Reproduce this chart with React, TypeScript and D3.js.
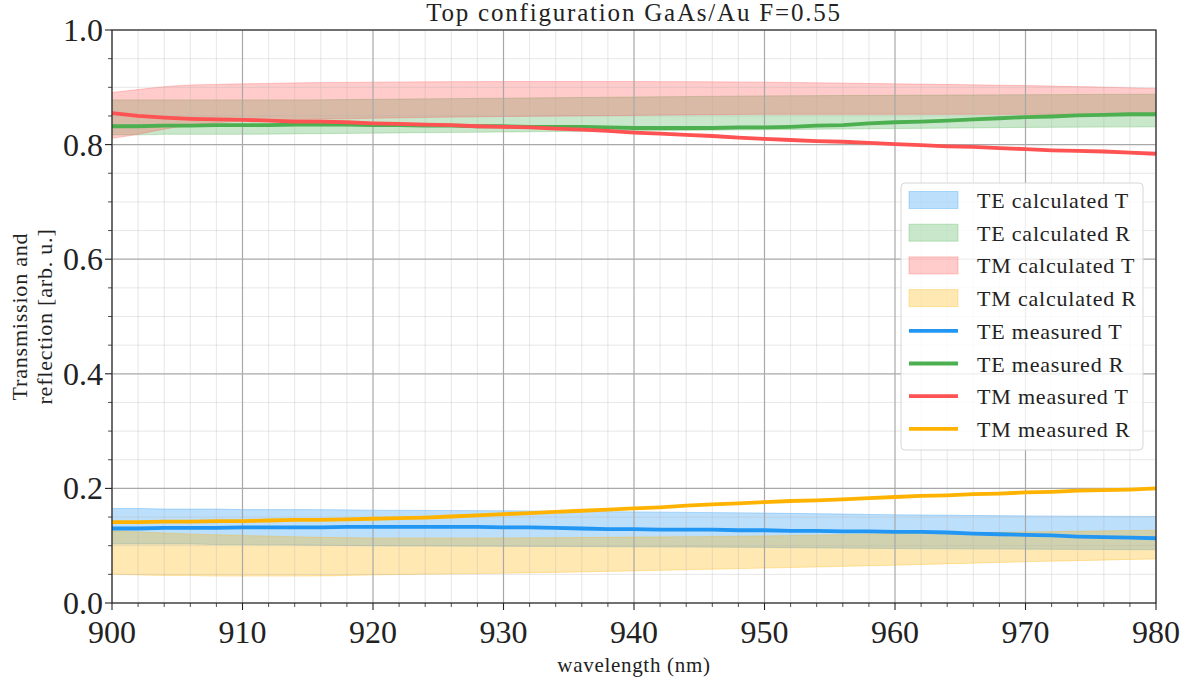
import React from "react";
import * as d3 from "d3";

// Measured curves, sampled every 2 nm
const lineWavelengths = [
  900, 902, 904, 906, 908, 910, 912, 914, 916, 918, 920, 922, 924, 926, 928, 930, 932, 934, 936, 938, 940,
  942, 944, 946, 948, 950, 952, 954, 956, 958, 960, 962, 964, 966, 968, 970, 972, 974, 976, 978, 980,
];
const teMeasuredT = [
  0.130, 0.130, 0.131, 0.131, 0.131, 0.132, 0.132, 0.132, 0.132, 0.133, 0.133, 0.133, 0.133, 0.133, 0.133,
  0.132, 0.132, 0.131, 0.130, 0.129, 0.129, 0.128, 0.128, 0.128, 0.127, 0.127, 0.126, 0.126, 0.125, 0.125,
  0.124, 0.124, 0.123, 0.121, 0.120, 0.119, 0.118, 0.116, 0.115, 0.114, 0.113,
];
const teMeasuredR = [
  0.832, 0.832, 0.833, 0.833, 0.834, 0.834, 0.834, 0.835, 0.835, 0.835, 0.834, 0.834, 0.833, 0.833, 0.832,
  0.832, 0.831, 0.831, 0.831, 0.830, 0.829, 0.829, 0.829, 0.829, 0.830, 0.830, 0.831, 0.833, 0.834, 0.837,
  0.839, 0.840, 0.842, 0.844, 0.846, 0.848, 0.849, 0.851, 0.852, 0.853, 0.853,
];
const tmMeasuredT = [
  0.855, 0.850, 0.847, 0.845, 0.844, 0.843, 0.842, 0.840, 0.840, 0.839, 0.837, 0.836, 0.835, 0.834, 0.832,
  0.831, 0.830, 0.828, 0.826, 0.824, 0.821, 0.819, 0.817, 0.815, 0.812, 0.810, 0.808, 0.806, 0.805, 0.803,
  0.801, 0.799, 0.797, 0.796, 0.794, 0.792, 0.790, 0.789, 0.788, 0.786, 0.784,
];
const tmMeasuredR = [
  0.141, 0.141, 0.142, 0.142, 0.143, 0.143, 0.144, 0.145, 0.145, 0.146, 0.147, 0.148, 0.149, 0.151, 0.153,
  0.155, 0.157, 0.159, 0.161, 0.163, 0.165, 0.167, 0.170, 0.172, 0.174, 0.176, 0.178, 0.179, 0.181, 0.183,
  0.185, 0.187, 0.188, 0.190, 0.191, 0.193, 0.194, 0.196, 0.197, 0.198, 0.200,
];

// Calculated ranges (lower / upper envelope)
const bandWavelengths = [900, 902, 904, 906, 908, 910, 915, 920, 930, 940, 950, 960, 970, 980];
const teCalcTLow = [0.103, 0.103, 0.103, 0.103, 0.102, 0.102, 0.101, 0.100, 0.099, 0.098, 0.097, 0.095, 0.094, 0.093];
const teCalcTHigh = [0.165, 0.165, 0.164, 0.164, 0.164, 0.163, 0.163, 0.162, 0.161, 0.159, 0.157, 0.154, 0.152, 0.151];
const teCalcRLow = [0.817, 0.817, 0.818, 0.818, 0.818, 0.818, 0.819, 0.820, 0.822, 0.824, 0.826, 0.828, 0.830, 0.831];
const teCalcRHigh = [0.878, 0.878, 0.878, 0.878, 0.878, 0.878, 0.878, 0.879, 0.881, 0.883, 0.885, 0.886, 0.887, 0.888];
const tmCalcTLow = [0.811, 0.818, 0.827, 0.834, 0.838, 0.841, 0.844, 0.846, 0.849, 0.851, 0.853, 0.853, 0.853, 0.852];
const tmCalcTHigh = [0.891, 0.896, 0.901, 0.904, 0.905, 0.906, 0.908, 0.909, 0.910, 0.910, 0.909, 0.906, 0.903, 0.898];
const tmCalcRLow = [0.050, 0.049, 0.048, 0.048, 0.047, 0.047, 0.047, 0.049, 0.052, 0.056, 0.061, 0.066, 0.072, 0.077];
const tmCalcRHigh = [0.126, 0.124, 0.122, 0.1205, 0.119, 0.118, 0.115, 0.1135, 0.1135, 0.115, 0.117, 0.121, 0.124, 0.127];

const xMajorTicks = [900, 910, 920, 930, 940, 950, 960, 970, 980];
const yMajorTicks = [0, 0.2, 0.4, 0.6, 0.8, 1.0];

const COLORS = {
  blue: "#2196f3",
  green: "#4caf50",
  red: "#ff5252",
  amber: "#ffb300",
};

const bands = [
  { label: "TE calculated T", color: COLORS.blue, low: teCalcTLow, high: teCalcTHigh },
  { label: "TE calculated R", color: COLORS.green, low: teCalcRLow, high: teCalcRHigh },
  { label: "TM calculated T", color: COLORS.red, low: tmCalcTLow, high: tmCalcTHigh },
  { label: "TM calculated R", color: COLORS.amber, low: tmCalcRLow, high: tmCalcRHigh },
];
const lines = [
  { label: "TE measured T", color: COLORS.blue, values: teMeasuredT },
  { label: "TE measured R", color: COLORS.green, values: teMeasuredR },
  { label: "TM measured T", color: COLORS.red, values: tmMeasuredT },
  { label: "TM measured R", color: COLORS.amber, values: tmMeasuredR },
];

const W = 1186;
const H = 681;
const left = 112;
const right = 1156;
const top = 30;
const bottom = 603;
const FONT = "'Liberation Serif', 'Times New Roman', serif";

export default function App() {
  const x = d3.scaleLinear().domain([900, 980]).range([left, right]);
  const y = d3.scaleLinear().domain([0, 1]).range([bottom, top]);

  const xMinor = d3.range(900, 980.01, 2).filter((v) => Math.round(v) % 10 !== 0);
  const yMinor = d3.range(0, 1.0001, 0.05).filter((v) => Math.round(v * 100) % 20 !== 0);

  const area = (low: number[], high: number[]) =>
    d3
      .area<number>()
      .x((_, i) => x(bandWavelengths[i]))
      .y0((_, i) => y(low[i]))
      .y1((_, i) => y(high[i]))
      .curve(d3.curveMonotoneX)(low) as string;

  const line = (vals: number[]) =>
    d3
      .line<number>()
      .x((_, i) => x(lineWavelengths[i]))
      .y((d) => y(d))(vals) as string;

  const legendX = 901;
  const legendY = 183;
  const rowH = 32.7;
  const firstRow = 200;

  return (
    <svg
      width={W}
      height={H}
      style={{ position: "absolute", left: 0, top: 0, background: "#fff" }}
      fontFamily={FONT}
    >
      <defs>
        <clipPath id="plot-clip">
          <rect x={left} y={top} width={right - left} height={bottom - top} />
        </clipPath>
      </defs>

      {/* bands */}
      <g clipPath="url(#plot-clip)">
        {bands.map((b) => (
          <path
            key={b.label}
            d={area(b.low, b.high)}
            fill={b.color}
            fillOpacity={0.3}
            stroke={b.color}
            strokeOpacity={0.3}
            strokeWidth={1}
          />
        ))}
      </g>

      {/* grid */}
      <g>
        {xMinor.map((v) => (
          <line key={"xm" + v} x1={x(v)} x2={x(v)} y1={top} y2={bottom} stroke="#b0b0b0" strokeOpacity={0.3} strokeWidth={1} />
        ))}
        {yMinor.map((v) => (
          <line key={"ym" + v} x1={left} x2={right} y1={y(v)} y2={y(v)} stroke="#b0b0b0" strokeOpacity={0.3} strokeWidth={1} />
        ))}
        {xMajorTicks.map((v) => (
          <line key={"xM" + v} x1={x(v)} x2={x(v)} y1={top} y2={bottom} stroke="#a8a8a8" strokeWidth={1.2} />
        ))}
        {yMajorTicks.map((v) => (
          <line key={"yM" + v} x1={left} x2={right} y1={y(v)} y2={y(v)} stroke="#a8a8a8" strokeWidth={1.2} />
        ))}
      </g>

      {/* measured lines */}
      <g clipPath="url(#plot-clip)">
        {lines.map((l) => (
          <path
            key={l.label}
            d={line(l.values)}
            fill="none"
            stroke={l.color}
            strokeWidth={3.8}
            strokeLinejoin="round"
            strokeLinecap="butt"
          />
        ))}
      </g>

      {/* frame */}
      <rect x={left} y={top} width={right - left} height={bottom - top} fill="none" stroke="#222" strokeWidth={1.1} />

      {/* ticks */}
      <g stroke="#222">
        {xMajorTicks.map((v) => (
          <line key={"xt" + v} x1={x(v)} x2={x(v)} y1={bottom} y2={bottom + 7} strokeWidth={1.1} />
        ))}
        {xMinor.map((v) => (
          <line key={"xmt" + v} x1={x(v)} x2={x(v)} y1={bottom} y2={bottom + 4} strokeWidth={0.8} />
        ))}
        {yMajorTicks.map((v) => (
          <line key={"yt" + v} x1={left - 7} x2={left} y1={y(v)} y2={y(v)} strokeWidth={1.1} />
        ))}
        {yMinor.map((v) => (
          <line key={"ymt" + v} x1={left - 4} x2={left} y1={y(v)} y2={y(v)} strokeWidth={0.8} />
        ))}
      </g>

      {/* tick labels */}
      <g fill="#222" fontSize={32}>
        {xMajorTicks.map((v) => (
          <text key={"xl" + v} x={x(v)} y={643} textAnchor="middle">
            {v}
          </text>
        ))}
        {yMajorTicks.map((v) => (
          <text key={"yl" + v} x={103} y={y(v) + 11} textAnchor="end">
            {v.toFixed(1)}
          </text>
        ))}
      </g>

      {/* titles */}
      <text x={(left + right) / 2} y={21} textAnchor="middle" fontSize={25} letterSpacing={1.8} fill="#222">
        Top configuration GaAs/Au F=0.55
      </text>
      <text x={(left + right) / 2} y={672} textAnchor="middle" fontSize={21} letterSpacing={0.7} fill="#222">
        wavelength (nm)
      </text>
      <g transform={`translate(0, ${(top + bottom) / 2}) rotate(-90)`} fill="#222" fontSize={22} letterSpacing={0.8}>
        <text x={0} y={27} textAnchor="middle">
          Transmission and
        </text>
        <text x={0} y={52} textAnchor="middle">
          reflection [arb. u.]
        </text>
      </g>

      {/* legend */}
      <rect
        x={legendX}
        y={legendY}
        width={242}
        height={267}
        rx={4}
        fill="#fff"
        fillOpacity={0.8}
        stroke="#d6d6d6"
        strokeWidth={1}
      />
      {bands.map((b, i) => (
        <g key={"lb" + b.label}>
          <rect
            x={909}
            y={firstRow + i * rowH - 8.5}
            width={49}
            height={17}
            fill={b.color}
            fillOpacity={0.3}
            stroke={b.color}
            strokeOpacity={0.3}
          />
          <text x={977} y={firstRow + i * rowH + 8} fontSize={22} letterSpacing={0.8} fill="#222">
            {b.label}
          </text>
        </g>
      ))}
      {lines.map((l, j) => {
        const i = j + 4;
        const cy = firstRow + i * rowH;
        return (
          <g key={"ll" + l.label}>
            <line x1={909} x2={958} y1={cy} y2={cy} stroke={l.color} strokeWidth={3.8} />
            <text x={977} y={cy + 8} fontSize={22} letterSpacing={0.8} fill="#222">
              {l.label}
            </text>
          </g>
        );
      })}
    </svg>
  );
}
